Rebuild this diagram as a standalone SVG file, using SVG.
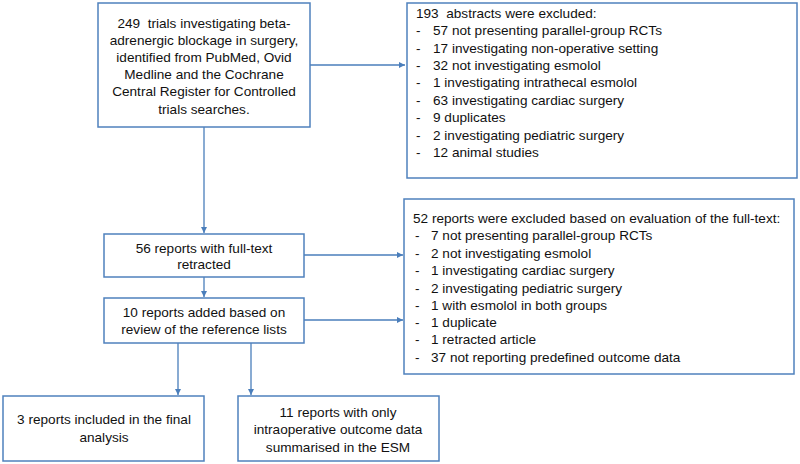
<svg xmlns="http://www.w3.org/2000/svg" width="800" height="464" viewBox="0 0 800 464">
<style>
.box{fill:#ffffff;stroke:#4f81bd;stroke-width:1.5}
.ln{fill:none;stroke:#4a7ebb;stroke-width:1.3}
text{font-family:"Liberation Sans",Arial,sans-serif;font-size:13.6px;fill:#111111;dominant-baseline:central}
.c{text-anchor:middle}
</style>
<defs>
<marker id="ah" viewBox="0 0 10 10" refX="10" refY="5" markerWidth="6" markerHeight="6" markerUnits="userSpaceOnUse" orient="auto">
<path d="M0,0 L10,5 L0,10 z" fill="#4a7ebb"/>
</marker>
</defs>
<rect width="800" height="464" fill="#ffffff"/>
<g id="connectors">
<line class="ln" x1="310" y1="65" x2="405" y2="65" marker-end="url(#ah)"/>
<line class="ln" x1="204" y1="127" x2="204" y2="233" marker-end="url(#ah)"/>
<line class="ln" x1="204" y1="277" x2="204" y2="297" marker-end="url(#ah)"/>
<line class="ln" x1="304" y1="255" x2="403" y2="255" marker-end="url(#ah)"/>
<line class="ln" x1="304" y1="320" x2="403" y2="320" marker-end="url(#ah)"/>
<line class="ln" x1="178" y1="343" x2="178" y2="395" marker-end="url(#ah)"/>
<line class="ln" x1="251" y1="343" x2="251" y2="395" marker-end="url(#ah)"/>
</g>
<g id="n1">
<rect class="box" x="98" y="3" width="212" height="124"/>
<text class="c" x="204" y="23" xml:space="preserve">249  trials investigating beta-</text>
<text class="c" x="204" y="40">adrenergic blockage in surgery,</text>
<text class="c" x="204" y="57">identified from PubMed, Ovid</text>
<text class="c" x="204" y="74">Medline and the Cochrane</text>
<text class="c" x="204" y="91">Central Register for Controlled</text>
<text class="c" x="204" y="109">trials searches.</text>
</g>
<g id="n2">
<rect class="box" x="407" y="3" width="390" height="175"/>
<text x="416" y="13" xml:space="preserve">193  abstracts were excluded:</text>
<text x="416" y="30">-</text><text x="433" y="30">57 not presenting parallel-group RCTs</text>
<text x="416" y="48">-</text><text x="433" y="48">17 investigating non-operative setting</text>
<text x="416" y="65">-</text><text x="433" y="65">32 not investigating esmolol</text>
<text x="416" y="82">-</text><text x="433" y="82">1 investigating intrathecal esmolol</text>
<text x="416" y="100">-</text><text x="433" y="100">63 investigating cardiac surgery</text>
<text x="416" y="117">-</text><text x="433" y="117">9 duplicates</text>
<text x="416" y="135">-</text><text x="433" y="135">2 investigating pediatric surgery</text>
<text x="416" y="152">-</text><text x="433" y="152">12 animal studies</text>
</g>
<g id="n3">
<rect class="box" x="404" y="199" width="390" height="175"/>
<text x="413" y="218">52 reports were excluded based on evaluation of the full-text:</text>
<text x="415" y="235">-</text><text x="431" y="235">7 not presenting parallel-group RCTs</text>
<text x="415" y="253">-</text><text x="431" y="253">2 not investigating esmolol</text>
<text x="415" y="270">-</text><text x="431" y="270">1 investigating cardiac surgery</text>
<text x="415" y="288">-</text><text x="431" y="288">2 investigating pediatric surgery</text>
<text x="415" y="305">-</text><text x="431" y="305">1 with esmolol in both groups</text>
<text x="415" y="322">-</text><text x="431" y="322">1 duplicate</text>
<text x="415" y="339">-</text><text x="431" y="339">1 retracted article</text>
<text x="415" y="357">-</text><text x="431" y="357">37 not reporting predefined outcome data</text>
</g>
<g id="n4">
<rect class="box" x="104" y="234" width="200" height="43"/>
<text class="c" x="204" y="248">56 reports with full-text</text>
<text class="c" x="204" y="264">retracted</text>
</g>
<g id="n5">
<rect class="box" x="104" y="298" width="200" height="45"/>
<text class="c" x="204" y="312">10 reports added based on</text>
<text class="c" x="204" y="329">review of the reference lists</text>
</g>
<g id="n6">
<rect class="box" x="3" y="396" width="201" height="65"/>
<text class="c" x="104" y="419">3 reports included in the final</text>
<text class="c" x="104" y="437">analysis</text>
</g>
<g id="n7">
<rect class="box" x="238" y="396" width="201" height="65"/>
<text class="c" x="338" y="412">11 reports with only</text>
<text class="c" x="338" y="429">intraoperative outcome data</text>
<text class="c" x="338" y="447">summarised in the ESM</text>
</g>
</svg>
